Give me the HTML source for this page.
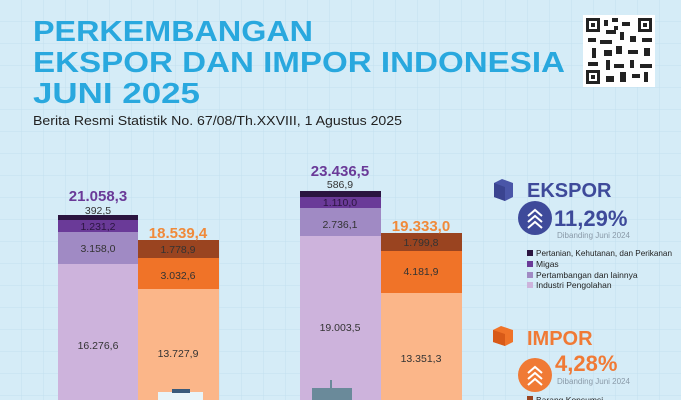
<!DOCTYPE html>
<html><head><meta charset="utf-8"><style>
html,body{margin:0;padding:0;background:#d5ecf7;}
svg{display:block;font-family:"Liberation Sans",sans-serif;}
</style></head><body>
<svg width="681" height="400" viewBox="0 0 681 400" xmlns="http://www.w3.org/2000/svg">
<defs>
<pattern id="g" width="22" height="22" patternUnits="userSpaceOnUse"><path d="M22 0V22M0 22H22" stroke="#c2e0ef" stroke-width="1" fill="none"/></pattern>
</defs>
<rect width="681" height="400" fill="#d5ecf7"/>
<rect width="681" height="400" fill="url(#g)"/>
<g fill="#29a8de" font-weight="bold" font-size="29">
<text x="33" y="41" textLength="280" lengthAdjust="spacingAndGlyphs">PERKEMBANGAN</text>
<text x="33" y="72" textLength="532" lengthAdjust="spacingAndGlyphs">EKSPOR DAN IMPOR INDONESIA</text>
<text x="33" y="103" textLength="167" lengthAdjust="spacingAndGlyphs">JUNI 2025</text>
</g>
<text x="33" y="125" font-size="13" fill="#222" textLength="369" lengthAdjust="spacingAndGlyphs">Berita Resmi Statistik No. 67/08/Th.XXVIII, 1 Agustus 2025</text>
<rect x="583" y="15" width="72" height="72" fill="#fff"/>
<g fill="#222">
<rect x="586" y="18" width="14" height="14"/><rect x="589" y="21" width="8" height="8" fill="#fff"/><rect x="591" y="23" width="4" height="4"/>
<rect x="638" y="18" width="14" height="14"/><rect x="641" y="21" width="8" height="8" fill="#fff"/><rect x="643" y="23" width="4" height="4"/>
<rect x="586" y="70" width="14" height="14"/><rect x="589" y="73" width="8" height="8" fill="#fff"/><rect x="591" y="75" width="4" height="4"/>
<rect x="604" y="20" width="4" height="6"/><rect x="612" y="18" width="6" height="4"/><rect x="622" y="22" width="8" height="4"/><rect x="606" y="30" width="10" height="4"/>
<rect x="620" y="32" width="4" height="8"/><rect x="588" y="38" width="8" height="4"/><rect x="600" y="40" width="12" height="4"/><rect x="630" y="36" width="6" height="6"/>
<rect x="642" y="38" width="10" height="4"/><rect x="592" y="48" width="4" height="10"/><rect x="604" y="50" width="8" height="6"/><rect x="616" y="46" width="6" height="8"/>
<rect x="628" y="50" width="10" height="4"/><rect x="644" y="48" width="6" height="8"/><rect x="588" y="62" width="10" height="4"/><rect x="606" y="60" width="4" height="10"/>
<rect x="614" y="64" width="10" height="4"/><rect x="630" y="60" width="4" height="8"/><rect x="640" y="64" width="12" height="4"/><rect x="606" y="76" width="8" height="6"/>
<rect x="620" y="72" width="6" height="10"/><rect x="632" y="74" width="8" height="4"/><rect x="644" y="72" width="4" height="10"/><rect x="614" y="26" width="4" height="4"/>
</g>
<rect x="58" y="215" width="80" height="5" fill="#2b1540"/>
<rect x="58" y="220" width="80" height="12" fill="#6a3a98"/>
<rect x="58" y="232" width="80" height="32" fill="#a08ac4"/>
<rect x="58" y="264" width="80" height="136" fill="#cdb3dc"/>
<rect x="138" y="240" width="81" height="18" fill="#9a4420"/>
<rect x="138" y="258" width="81" height="31" fill="#f07328"/>
<rect x="138" y="289" width="81" height="111" fill="#fbb689"/>
<rect x="300" y="191" width="81" height="6" fill="#2b1540"/>
<rect x="300" y="197" width="81" height="11" fill="#6a3a98"/>
<rect x="300" y="208" width="81" height="28" fill="#a08ac4"/>
<rect x="300" y="236" width="81" height="164" fill="#cdb3dc"/>
<rect x="381" y="233" width="81" height="18" fill="#9a4420"/>
<rect x="381" y="251" width="81" height="42" fill="#f07328"/>
<rect x="381" y="293" width="81" height="107" fill="#fbb689"/>
<g font-size="10.5" text-anchor="middle" fill="#333">
<text x="98" y="214">392,5</text>
<text x="98" y="230" fill="#2b1540">1.231,2</text>
<text x="98" y="252">3.158,0</text>
<text x="98" y="349">16.276,6</text>
<text x="178" y="253">1.778,9</text>
<text x="178" y="279">3.032,6</text>
<text x="178" y="357">13.727,9</text>
<text x="340" y="188">586,9</text>
<text x="340" y="206" fill="#2b1540">1.110,0</text>
<text x="340" y="228">2.736,1</text>
<text x="340" y="331">19.003,5</text>
<text x="421" y="246">1.799,8</text>
<text x="421" y="275">4.181,9</text>
<text x="421" y="362">13.351,3</text>
</g>
<g font-size="15" font-weight="bold" text-anchor="middle">
<text x="98" y="201" fill="#6a3a98">21.058,3</text>
<text x="178" y="238" fill="#f08a3a">18.539,4</text>
<text x="340" y="176" fill="#6a3a98">23.436,5</text>
<text x="421" y="231" fill="#f08a3a">19.333,0</text>
</g>
<rect x="158" y="392" width="45" height="8" fill="#e8f4f8"/><rect x="172" y="389" width="18" height="4" fill="#3a5a7a"/>
<rect x="312" y="388" width="40" height="12" fill="#6a8a9a"/><rect x="330" y="380" width="2" height="10" fill="#6a8a9a"/>
<path d="M494 183l8-4 11 4v14l-8 4-11-4z" fill="#4a56a8"/><path d="M494 183l11 4v14l-11-4z" fill="#3a4490"/>
<text x="527" y="197" font-size="20" font-weight="bold" fill="#3e4a9a">EKSPOR</text>
<circle cx="535" cy="218" r="17" fill="#3e4a9a"/>
<path d="M528 216l7-6 7 6M528 222l7-6 7 6M528 228l7-6 7 6" stroke="#fff" stroke-width="2" fill="none"/>
<text x="554" y="226" font-size="22" font-weight="bold" fill="#3e4a9a">11,29%</text>
<text x="557" y="238" font-size="8" fill="#8a9aa8">Dibanding Juni 2024</text>
<g font-size="8.5" fill="#222">
<rect x="527" y="250" width="6" height="6" fill="#2b1540"/><text x="536" y="256" textLength="136" lengthAdjust="spacingAndGlyphs">Pertanian, Kehutanan, dan Perikanan</text>
<rect x="527" y="261" width="6" height="6" fill="#6a3a98"/><text x="536" y="267">Migas</text>
<rect x="527" y="272" width="6" height="6" fill="#a08ac4"/><text x="536" y="278">Pertambangan dan lainnya</text>
<rect x="527" y="282" width="6" height="6" fill="#cdb3dc"/><text x="536" y="288">Industri Pengolahan</text>
</g>
<path d="M493 330l8-4 12 4v12l-8 4-12-4z" fill="#f07328"/><path d="M493 330l12 4v12l-12-4z" fill="#d85a18"/>
<text x="527" y="345" font-size="20" font-weight="bold" fill="#f07a35">IMPOR</text>
<circle cx="535" cy="375" r="17" fill="#f07a35"/>
<path d="M528 373l7-6 7 6M528 379l7-6 7 6M528 385l7-6 7 6" stroke="#fff" stroke-width="2" fill="none"/>
<text x="555" y="371" font-size="22" font-weight="bold" fill="#f07a35">4,28%</text>
<text x="557" y="384" font-size="8" fill="#8a9aa8">Dibanding Juni 2024</text>
<rect x="527" y="396" width="6" height="6" fill="#9a4420"/><text x="536" y="403" font-size="8.5" fill="#222">Barang Konsumsi</text>
</svg>
</body></html>
